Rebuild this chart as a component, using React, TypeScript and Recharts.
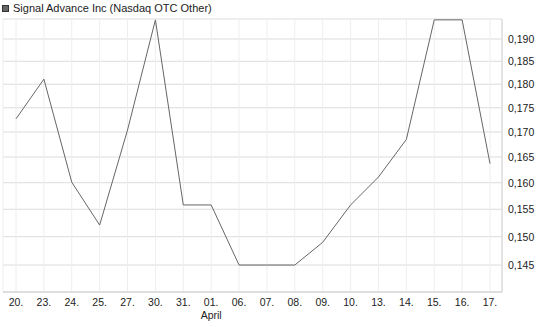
import React from 'react';
import { LineChart, Line, XAxis, YAxis, CartesianGrid } from 'recharts';

const categories = ['20.', '23.', '24.', '25.', '27.', '30.', '31.', '01.', '06.', '07.', '08.', '09.', '10.', '13.', '14.', '15.', '16.', '17.'];
const prices = [0.1727, 0.1811, 0.1601, 0.1521, 0.1704, 0.1944, 0.1558, 0.1558, 0.145, 0.145, 0.145, 0.149, 0.1558, 0.1611, 0.1685, 0.1944, 0.1944, 0.1637];
const yTicks = [0.145, 0.15, 0.155, 0.16, 0.165, 0.17, 0.175, 0.18, 0.185, 0.19];
const subLabels: Record<string, string> = { '01.': 'April' };
const seriesName = 'Signal Advance Inc (Nasdaq OTC Other)';

const data = categories.map((c, i) => ({ date: c, price: prices[i] }));

const FONT = '"Liberation Sans", Arial, sans-serif';

const XTick = (props: any) => {
  const { x, y, payload } = props;
  return (
    <g>
      <text x={x} y={y} dy={2} textAnchor="middle" fontSize={10.5} fill="#222" fontFamily={FONT}>
        {payload.value}
      </text>
      {subLabels[payload.value] && (
        <text x={x} y={y} dy={15} textAnchor="middle" fontSize={10.5} fill="#222" fontFamily={FONT}>
          {subLabels[payload.value]}
        </text>
      )}
    </g>
  );
};

const YTick = (props: any) => {
  const { x, y, payload } = props;
  return (
    <text x={x} y={y} dy={4} textAnchor="start" fontSize={10.5} fill="#222" fontFamily={FONT}>
      {payload.value.toFixed(3).replace('.', ',')}
    </text>
  );
};

export default function App() {
  return (
    <div style={{ position: 'absolute', left: 0, top: 0, width: 545, height: 327, background: '#fff' }}>
      <div style={{ position: 'absolute', left: 2, top: 1, height: 14, display: 'flex', alignItems: 'center', fontFamily: FONT, fontSize: 11, color: '#222', whiteSpace: 'nowrap' }}>
        <span style={{ display: 'inline-block', width: 5, height: 5, background: '#666', border: '1px solid #333', marginRight: 4 }} />
        {seriesName}
      </div>
      <LineChart width={545} height={327} data={data} margin={{ top: 19, right: 0, bottom: 0, left: 3 }}>
        <CartesianGrid stroke="#dcdcdc" vertical={false} horizontal={true} xAxisId="main" yAxisId="main" />
        <CartesianGrid stroke="#eeeeee" vertical={true} horizontal={false} xAxisId="main" yAxisId="main" />
        <XAxis dataKey="date" xAxisId="main" interval={0} tickLine={false} axisLine={{ stroke: '#d0d0d0' }} height={35} padding={{ left: 13, right: 12 }} tick={<XTick />} tickMargin={6} />
        <XAxis dataKey="date" xAxisId="top" orientation="top" height={0} tick={false} tickLine={false} axisLine={{ stroke: '#e4e4e4' }} padding={{ left: 13, right: 12 }} />
        <YAxis yAxisId="main" orientation="right" scale="log" domain={[0.1404, 0.1946]} allowDataOverflow ticks={yTicks} interval={0} width={43} tickLine={false} axisLine={{ stroke: '#d0d0d0' }} tick={<YTick />} tickMargin={0} />
        <YAxis yAxisId="left" orientation="left" scale="log" domain={[0.1404, 0.1946]} allowDataOverflow width={0} tick={false} tickLine={false} axisLine={{ stroke: '#d0d0d0' }} />
        <Line xAxisId="main" yAxisId="main" type="linear" dataKey="price" stroke="#666666" strokeWidth={1} dot={false} isAnimationActive={false} />
      </LineChart>
    </div>
  );
}
